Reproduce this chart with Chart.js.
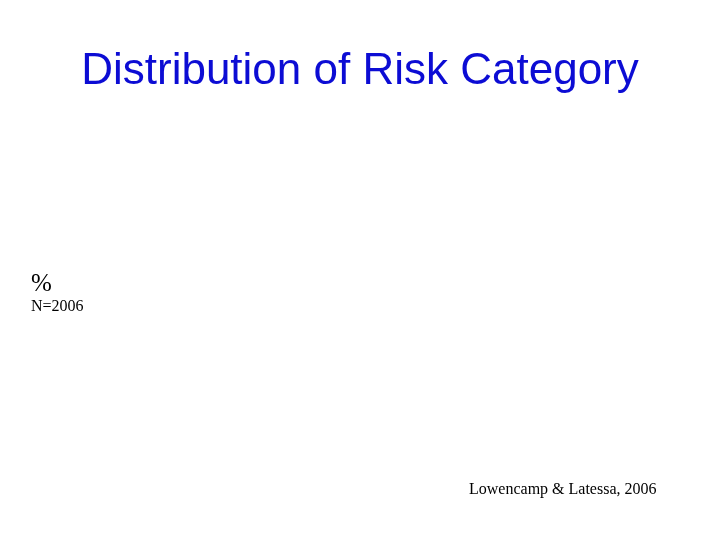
<!DOCTYPE html>
<html>
<head>
<meta charset="utf-8">
<script src="https://cdn.jsdelivr.net/npm/chart.js@4.4.0/dist/chart.umd.min.js"></script>
<style>
    html, body { margin: 0; padding: 0; background: #fff; }
    #wrap { position: relative; width: 720px; height: 540px; }
    #chart { position: absolute; left: 0; top: 0; }
    .note { position: absolute; font-family: "Liberation Serif", "Times New Roman", serif; color: #000; white-space: nowrap; line-height: 1; }
    #unit { left: 31px; top: 270px; font-size: 25px; }
    #count { left: 31px; top: 298px; font-size: 16px; }
    #source { left: 469px; top: 481px; font-size: 16px; }
</style>
</head>
<body>
<div id="wrap">
    <canvas id="chart" width="720" height="540"></canvas>
    <div class="note" id="unit">%</div>
    <div class="note" id="count">N=2006</div>
    <div class="note" id="source">Lowencamp &amp; Latessa, 2006</div>
</div>
<script>
// No bars are visible in the picture, so the series is empty
const categories = [];
const percentValues = [];
const titleText = 'Distribution of Risk Category';

window.addEventListener('load', () => {
    new Chart(document.getElementById('chart'), {
        type: 'bar',
        data: {
            labels: categories,
            datasets: [{
                label: '%',
                data: percentValues,
                backgroundColor: '#0000cc'
            }]
        },
        options: {
            responsive: false,
            animation: false,
            layout: { padding: 0 },
            plugins: {
                legend: { display: false },
                tooltip: { enabled: false },
                title: {
                    display: true,
                    text: titleText,
                    color: '#0c0cd4',
                    font: { family: 'Liberation Sans, Arial, sans-serif', size: 44, weight: 'normal' },
                    padding: { top: 45, bottom: 0 }
                }
            },
            scales: {
                x: { display: false },
                y: { display: false, min: 0, max: 100 }
            }
        }
    });
});
</script>
</body>
</html>
